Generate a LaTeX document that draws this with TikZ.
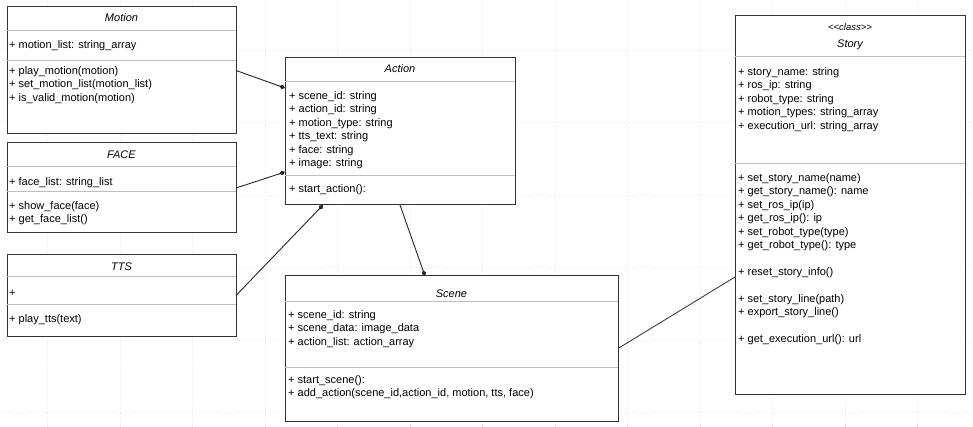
\documentclass[tikz,border=0pt]{standalone}
\usepackage{fontspec}
\setmainfont{Liberation Sans}
\usetikzlibrary{arrows.meta, positioning}
\tikzstyle{classbox} = [rectangle, anchor=north west, draw=black!80, line width=1pt, fill=white, inner sep=0pt, outer sep=0pt]
\tikzstyle{classname} = [anchor=base, inner sep=0pt, font=\fontsize{11}{13.45}\selectfont\itshape]
\tikzstyle{members} = [anchor=north west, inner sep=0pt, align=left]
\tikzstyle{divider} = [draw=black!25, line width=1pt]
\tikzstyle{composition} = [draw=black!85, line width=0.9pt, -{Diamond[length=6pt,width=4.5pt]}]
\tikzstyle{link} = [draw=black!75, line width=0.9pt]
\tikzstyle{gridline} = [draw=black!8, dotted, line width=0.6pt]

\begin{document}
\begin{tikzpicture}[x=1pt, y=-1pt, font=\fontsize{11}{13.45}\selectfont]
            \useasboundingbox (0,0) rectangle (973,427);
            \fill [white] (0,0) rectangle (973,427);
            % faint background grid
            \foreach \gx in {47.5,120,...,973} \draw [gridline] (\gx,0) -- (\gx,427);
            \foreach \gy in {50,122.5,...,427} \draw [gridline] (0,\gy) -- (973,\gy);

            % classes
            \node (motion) [classbox, minimum width=229pt, minimum height=127pt] at (7,7) {};
            \node (face) [classbox, minimum width=229pt, minimum height=90pt] at (7,143) {};
            \node (tts) [classbox, minimum width=229pt, minimum height=81pt] at (7,255) {};
            \node (action) [classbox, minimum width=230pt, minimum height=147pt] at (285,58) {};
            \node (scene) [classbox, minimum width=333pt, minimum height=145pt] at (285,276) {};
            \node (story) [classbox, minimum width=230pt, minimum height=378pt] at (735,16) {};

            % Motion
            \node (motiontitle) [classname] at (121.5,22) {Motion};
            \draw [divider] ([yshift=-24pt]motion.north west) -- ([yshift=-24pt]motion.north east);
            \node (motionattr) [members] at (9,38.6) {\strut+ motion\_list: string\_array};
            \draw [divider] ([yshift=-54pt]motion.north west) -- ([yshift=-54pt]motion.north east);
            \node (motionops) [members] at (9,64.6) {\strut+ play\_motion(motion)\\
                + set\_motion\_list(motion\_list)\\ + is\_valid\_motion(motion)};

            % FACE
            \node (facetitle) [classname] at (121.5,159) {FACE};
            \draw [divider] ([yshift=-24pt]face.north west) -- ([yshift=-24pt]face.north east);
            \node (faceattr) [members] at (9,175.6) {\strut+ face\_list: string\_list};
            \draw [divider] ([yshift=-49pt]face.north west) -- ([yshift=-49pt]face.north east);
            \node (faceops) [members] at (9,199.6) {\strut+ show\_face(face)\\ + get\_face\_list()};

            % TTS
            \node (ttstitle) [classname] at (121.5,271) {TTS};
            \draw [divider] ([yshift=-22pt]tts.north west) -- ([yshift=-22pt]tts.north east);
            \node (ttsattr) [members] at (9,286.6) {\strut+};
            \draw [divider] ([yshift=-49pt]tts.north west) -- ([yshift=-49pt]tts.north east);
            \node (ttsops) [members] at (9,312.6) {\strut+ play\_tts(text)};

            % Action
            \node (actiontitle) [classname] at (400,73) {Action};
            \draw [divider] ([yshift=-24pt]action.north west) -- ([yshift=-24pt]action.north east);
            \node (actionattr) [members] at (289,89.6) {\strut+ scene\_id: string\\ + action\_id: string\\
                + motion\_type: string\\ + tts\_text: string\\ + face: string\\ + image: string};
            \draw [divider] ([yshift=-118pt]action.north west) -- ([yshift=-118pt]action.north east);
            \node (actionops) [members] at (289,182.6) {\strut+ start\_action():};

            % Scene
            \node (scenetitle) [classname] at (451.5,297) {Scene};
            \draw [divider] ([yshift=-25pt]scene.north west) -- ([yshift=-25pt]scene.north east);
            \node (sceneattr) [members] at (288,308.6) {\strut+ scene\_id: string\\
                + scene\_data: image\_data\\ + action\_list: action\_array};
            \draw [divider] ([yshift=-91pt]scene.north west) -- ([yshift=-91pt]scene.north east);
            \node (sceneops) [members] at (288,373.6) {\strut+ start\_scene():\\
                + add\_action(scene\_id,action\_id, motion, tts, face)};

            % Story
            \node (storytype) [classname, font=\fontsize{9.5}{12}\selectfont\itshape] at (850,30.5) {{<}{<}class{>}{>}};
            \node (storytitle) [classname] at (850,48) {Story};
            \draw [divider] ([yshift=-41pt]story.north west) -- ([yshift=-41pt]story.north east);
            \node (storyattr) [members] at (738,65.6) {\strut+ story\_name: string\\ + ros\_ip: string\\
                + robot\_type: string\\ + motion\_types: string\_array\\ + execution\_url: string\_array};
            \draw [divider] ([yshift=-148pt]story.north west) -- ([yshift=-148pt]story.north east);
            \node (storyops) [members] at (738,171.6) {\strut+ set\_story\_name(name)\\
                + get\_story\_name(): name\\ + set\_ros\_ip(ip)\\ + get\_ros\_ip(): ip\\
                + set\_robot\_type(type)\\ + get\_robot\_type(): type\\[13.45pt]
                + reset\_story\_info()\\[13.45pt]
                + set\_story\_line(path)\\ + export\_story\_line()\\[13.45pt]
                + get\_execution\_url(): url};

            % associations
            \draw [composition] (motion.east) -- ([yshift=43.5pt]action.west);
            \draw [composition] (face.east) -- ([yshift=-40.5pt]action.west);
            \draw [composition] (tts.east) -- ([xshift=-77pt]action.south);
            \draw [composition] (action.south) -- ([xshift=-26.5pt]scene.north);
            \draw [link] (scene.east) -- ([yshift=-72pt]story.west);
\end{tikzpicture}
\end{document}
